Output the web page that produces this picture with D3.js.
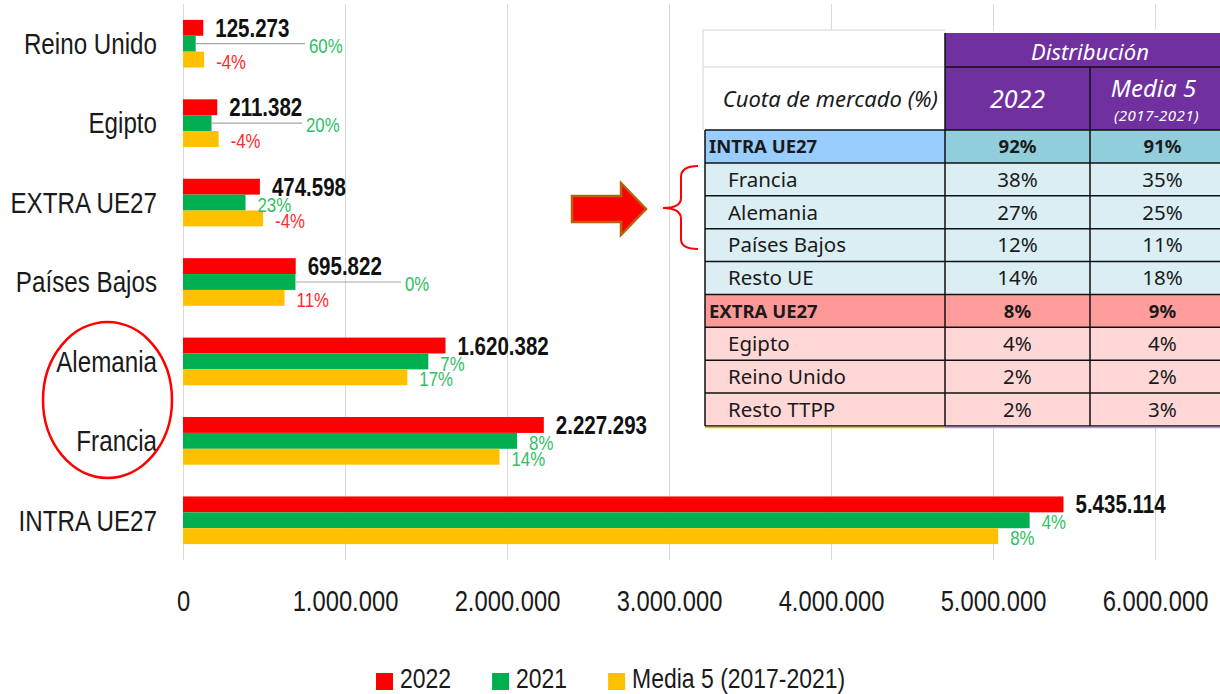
<!DOCTYPE html>
<html>
<head>
<meta charset="utf-8">
<script src="https://cdn.jsdelivr.net/npm/d3@7"></script>
<style>
  body { margin: 0; background: #fff; }
  svg { display: block; }
  .narrow { font-family: 'Liberation Sans', Arial, sans-serif; }
  .tbl { font-family: 'Noto Sans', 'Open Sans', sans-serif; }
</style>
</head>
<body>
<svg width="1220" height="694"></svg>
<script>
// chart data (top to bottom)
const categories = ['Reino Unido', 'Egipto', 'EXTRA UE27', 'Países Bajos', 'Alemania', 'Francia', 'INTRA UE27'];
const v2022 = [125273, 211382, 474598, 695822, 1620382, 2227293, 5435114];
const v2021 = [78300, 176200, 385900, 694000, 1514400, 2062300, 5226100];
const vMedia = [130500, 220200, 494400, 626900, 1384900, 1953800, 5032500];
const pct2021 = ['60%', '20%', '23%', '0%', '7%', '8%', '4%'];
const pctMedia = ['-4%', '-4%', '-4%', '11%', '17%', '14%', '8%'];
const xTicks = [0, 1000000, 2000000, 3000000, 4000000, 5000000, 6000000];
const seriesNames = ['2022', '2021', 'Media 5 (2017-2021)'];

// table data
const tableRows = ['INTRA UE27', 'Francia', 'Alemania', 'Países Bajos', 'Resto UE', 'EXTRA UE27', 'Egipto', 'Reino Unido', 'Resto TTPP'];
const share2022 = ['92%', '38%', '27%', '12%', '14%', '8%', '4%', '2%', '2%'];
const shareMedia = ['91%', '35%', '25%', '11%', '18%', '9%', '4%', '2%', '3%'];

const colors = ['#ff0000', '#00b050', '#ffc000'];
const pctGreen = '#2fbf62', pctRed = '#ff2b2b';
const SX = 0.82; // squeeze Liberation Sans to a narrow face

const es = d3.formatLocale({ decimal: ',', thousands: '.', grouping: [3], currency: ['', '€'] });
const fmt = es.format(',d');
const at = (px, py) => `translate(${px},${py}) scale(${SX},1)`;

const svg = d3.select('svg');
const x = d3.scaleLinear().domain([0, 6000000]).range([183, 1155]);
const y = d3.scaleBand().domain(categories).range([4, 560]).paddingInner(0.4).paddingOuter(0.2);
const ys = d3.scaleBand().domain([0, 1, 2]).range([0, y.bandwidth()]);

// grid + tick labels
const axis = svg.append('g')
    .attr('transform', 'translate(0,560)')
    .call(d3.axisBottom(x).tickValues(xTicks).tickSize(-556).tickPadding(30).tickFormat(fmt));
axis.select('.domain').remove();
axis.selectAll('line').attr('stroke', '#d9d9d9');
axis.selectAll('text').attr('class', 'narrow').attr('transform', `scale(${SX},1)`)
    .style('font-size', '29px').attr('fill', '#1a1a1a');

// category labels
svg.append('g').selectAll('text')
    .data(categories)
    .enter().append('text')
    .attr('class', 'narrow')
    .attr('transform', d => at(157, y(d) + y.bandwidth() / 2))
    .attr('dy', '0.35em')
    .attr('text-anchor', 'end')
    .style('font-size', '29.5px')
    .attr('fill', '#1a1a1a')
    .text(d => d);

const rows = categories.map((c, i) => ({ c, vals: [v2022[i], v2021[i], vMedia[i]], p21: pct2021[i], pm: pctMedia[i] }));

const grp = svg.append('g').selectAll('g')
    .data(rows)
    .enter().append('g')
    .attr('transform', d => `translate(0,${y(d.c)})`);

grp.selectAll('rect')
    .data(d => d.vals)
    .enter().append('rect')
    .attr('x', x(0))
    .attr('y', (d, i) => ys(i))
    .attr('width', d => x(d) - x(0))
    .attr('height', ys.bandwidth())
    .attr('fill', (d, i) => colors[i]);

// value labels for 2022
grp.append('text')
    .attr('class', 'narrow')
    .attr('transform', d => at(x(d.vals[0]) + 12, ys(0) + ys.bandwidth() / 2))
    .attr('dy', '0.36em')
    .style('font-size', '25px')
    .style('font-weight', 'bold')
    .attr('fill', '#111')
    .text(d => fmt(d.vals[0]));

// labels moved by hand in the original, with leader lines
const movedGreen = { 'Reino Unido': 309, 'Egipto': 306, 'Países Bajos': 405 };
const pctColor = (d, key) => {
  const s = key === 'm' ? d.pm : d.p21;
  if (s.startsWith('-')) return pctRed;
  if (key === 'm' && d.c === 'Países Bajos') return pctRed;
  return pctGreen;
};

grp.filter(d => movedGreen[d.c])
  .append('line')
    .attr('x1', d => x(d.vals[1]))
    .attr('x2', d => movedGreen[d.c] - 4)
    .attr('y1', ys(1) + ys.bandwidth() / 2)
    .attr('y2', ys(1) + ys.bandwidth() / 2)
    .attr('stroke', '#a6a6a6')
    .attr('stroke-width', 1.2);

grp.append('text')
    .attr('class', 'narrow')
    .attr('transform', d => at(movedGreen[d.c] || x(d.vals[1]) + 12, ys(1) + ys.bandwidth() / 2 + 2))
    .attr('dy', '0.35em')
    .style('font-size', '20.5px')
    .attr('fill', d => pctColor(d, 'g'))
    .text(d => d.p21);

grp.append('text')
    .attr('class', 'narrow')
    .attr('transform', d => at(x(d.vals[2]) + 12, ys(2) + ys.bandwidth() / 2 + 2))
    .attr('dy', '0.35em')
    .style('font-size', '20.5px')
    .attr('fill', d => pctColor(d, 'm'))
    .text(d => d.pm);

// ---- table overlay ----
const tb = svg.append('g').attr('class', 'tbl');
tb.append('rect').attr('x', 700).attr('y', 30).attr('width', 520).attr('height', 398).attr('fill', '#fff');

const colL = 705, col1 = 945, col2 = 1090, colR = 1235;
const ty = d3.scaleBand().domain(tableRows).range([130, 426]);

// light excel gridlines in header area
tb.append('path')
    .attr('d', `M703,30V130 M703,30H${col1} M703,67H${col1}`)
    .attr('stroke', '#d4d4d4').attr('fill', 'none');

// purple header
tb.append('rect').attr('x', col1).attr('y', 33).attr('width', colR - col1).attr('height', 97).attr('fill', '#7030a0');
tb.append('path')
    .attr('d', `M${col1},67H1220 M${col2},67V130 M${col1},33V130`)
    .attr('stroke', '#111').attr('stroke-width', 1.5);

tb.append('text').attr('x', col2).attr('y', 52).attr('dy', '0.35em').attr('text-anchor', 'middle')
    .style('font-size', '22px').style('font-style', 'italic').attr('fill', '#fff').text('Distribución');
tb.append('text').attr('x', (col1 + col2) / 2).attr('y', 99).attr('dy', '0.35em').attr('text-anchor', 'middle')
    .style('font-size', '25px').style('font-style', 'italic').attr('fill', '#fff').text('2022');
tb.append('text').attr('x', (col2 + colR) / 2 - 9).attr('y', 89).attr('dy', '0.35em').attr('text-anchor', 'middle')
    .style('font-size', '24px').style('font-style', 'italic').attr('fill', '#fff').text('Media 5');
tb.append('text').attr('x', (col2 + colR) / 2 - 6).attr('y', 116).attr('dy', '0.35em').attr('text-anchor', 'middle')
    .style('font-size', '15px').style('font-style', 'italic').style('letter-spacing', '0.5px')
    .attr('fill', '#fff').text('(2017-2021)');
tb.append('text').attr('x', 938).attr('y', 99).attr('dy', '0.35em').attr('text-anchor', 'end')
    .style('font-size', '22px').style('font-style', 'italic').attr('fill', '#1a1a1a').text('Cuota de mercado (%)');

const isHead = r => r === 'INTRA UE27' || r === 'EXTRA UE27';
const isExtra = (r, i) => i >= tableRows.indexOf('EXTRA UE27');
const fillL = (r, i) => r === 'INTRA UE27' ? '#99ccff' : r === 'EXTRA UE27' ? '#ff9999' : isExtra(r, i) ? '#ffd7d7' : '#daeef3';
const fillV = (r, i) => r === 'INTRA UE27' ? '#92cddc' : r === 'EXTRA UE27' ? '#ff9d9d' : isExtra(r, i) ? '#ffd7d7' : '#daeef3';

const tr = tb.selectAll('g.row')
    .data(tableRows.map((r, i) => ({ r, i, a: share2022[i], b: shareMedia[i] })))
    .enter().append('g').attr('class', 'row')
    .attr('transform', d => `translate(0,${ty(d.r)})`);

tr.append('rect').attr('x', colL).attr('width', col1 - colL).attr('height', ty.bandwidth()).attr('fill', d => fillL(d.r, d.i));
tr.append('rect').attr('x', col1).attr('width', colR - col1).attr('height', ty.bandwidth()).attr('fill', d => fillV(d.r, d.i));

const cellText = (sel, px, anchor, key) => sel.append('text')
    .attr('x', px).attr('text-anchor', anchor)
    .attr('y', ty.bandwidth() / 2).attr('dy', '0.36em')
    .style('font-size', d => isHead(d.r) ? '18.5px' : '20.5px')
    .style('font-weight', d => isHead(d.r) ? 'bold' : 'normal')
    .attr('fill', '#1a1a1a')
    .text(d => d[key]);

tr.append('text')
    .attr('x', d => isHead(d.r) ? 709 : 728)
    .attr('y', ty.bandwidth() / 2).attr('dy', '0.36em')
    .style('font-size', d => isHead(d.r) ? '18.5px' : '20.5px')
    .style('font-weight', d => isHead(d.r) ? 'bold' : 'normal')
    .attr('fill', '#1a1a1a')
    .text(d => d.r);
cellText(tr, (col1 + col2) / 2, 'middle', 'a');
cellText(tr, (col2 + colR) / 2, 'middle', 'b');

// cell borders
const hLines = tableRows.map(r => ty(r)).concat([426]);
tb.append('path')
    .attr('d', hLines.map(v => `M${colL},${v}H1220`).join(' ') + ` M${colL},130V426 M${col1},130V426 M${col2},130V426`)
    .attr('stroke', '#111').attr('stroke-width', 1.5).attr('fill', 'none');
tb.append('line').attr('x1', colL).attr('x2', col1).attr('y1', 427.5).attr('y2', 427.5).attr('stroke', '#ffc000').attr('stroke-width', 1.5);
tb.append('line').attr('x1', col1).attr('x2', 1220).attr('y1', 427.5).attr('y2', 427.5).attr('stroke', '#b79ad6').attr('stroke-width', 1.5);

// ---- annotations ----
svg.append('polygon')
    .attr('points', '572,196 621,196 621,183 646,209 621,235 621,222 572,222')
    .attr('fill', '#ff0000').attr('stroke', '#b8600c').attr('stroke-width', 2.5);
svg.append('path')
    .attr('d', 'M698,166 Q681,166 681,177 L681,198 Q681,208 663,208 Q681,208 681,219 L681,239 Q681,249 698,249')
    .attr('fill', 'none').attr('stroke', '#ff0000').attr('stroke-width', 2);
svg.append('ellipse')
    .attr('cx', 107.5).attr('cy', 400).attr('rx', 64.5).attr('ry', 78)
    .attr('fill', 'none').attr('stroke', '#ff0000').attr('stroke-width', 2.5);

// ---- legend ----
const leg = svg.append('g').attr('transform', 'translate(376,0)');
let lx = 0;
seriesNames.forEach((s, i) => {
  leg.append('rect').attr('x', lx).attr('y', 673).attr('width', 17).attr('height', 17).attr('fill', colors[i]);
  const t = leg.append('text').attr('class', 'narrow')
      .attr('transform', at(lx + 24, 688))
      .style('font-size', '28px').attr('fill', '#1a1a1a').text(s);
  lx += 24 + t.node().getComputedTextLength() * SX + 41;
});
</script>
</body>
</html>
